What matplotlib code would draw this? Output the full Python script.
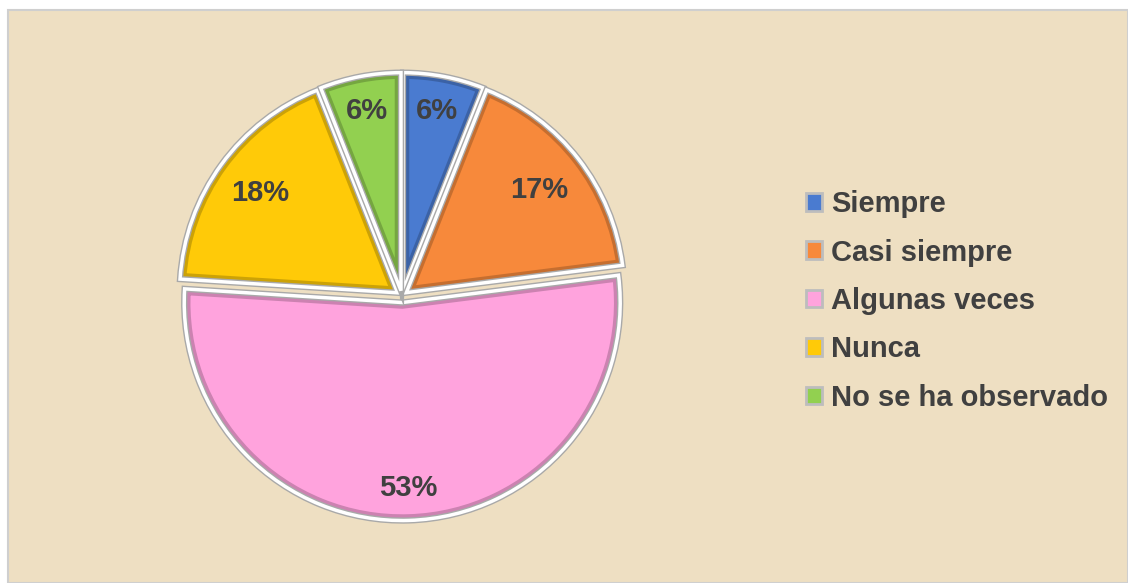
import matplotlib
matplotlib.use("Agg")
import numpy as np
import matplotlib.pyplot as plt
import matplotlib.patheffects as pe
from matplotlib.colors import to_rgb
from matplotlib.patches import Patch, Rectangle, Wedge

# data
categories = ["Siempre", "Casi siempre", "Algunas veces", "Nunca", "No se ha observado"]
percent = [6, 17, 53, 18, 6]
colors = ["#4A7BD0", "#F7893B", "#FFA3DD", "#FFCA08", "#92D050"]
explode = [0.025, 0.025, 0.03, 0.025, 0.025]
label_dist = [0.84, 0.77, 0.85, 0.78, 0.84]

plt.rcParams["font.family"] = ["Liberation Sans", "DejaVu Sans"]
text_color = "#404040"


def darker(c, f=0.8):
    return tuple(v * f for v in to_rgb(c))


W, H = 1128, 583
fig = plt.figure(figsize=(W / 100, H / 100), dpi=100)
fig.patch.set_facecolor("white")

# parchment-like background panel with thin grey border
bg = Rectangle((8 / W, 0), 1 - 8 / W, 1 - 10 / H, transform=fig.transFigure,
               facecolor="#EEDFC2", edgecolor="#CFCFCF", linewidth=1.5, zorder=-10)
fig.patches.append(bg)

# pie axes: centre (402, 296) px, radius 218 px
cx, cy, r = 402, 296, 218
lim = 1.15
side = 2 * lim * r
ax = fig.add_axes([(cx - side / 2) / W, 1 - (cy + side / 2) / H, side / W, side / H])

wedges, texts, autotexts = ax.pie(
    percent, colors=colors, explode=explode, startangle=90, counterclock=False,
    autopct=lambda p: f"{p:.0f}%", pctdistance=0.84, radius=1.0,
    wedgeprops=dict(linewidth=0),
    textprops=dict(color=text_color, fontsize=21, fontweight="bold"),
)
ax.set_xlim(-lim, lim)
ax.set_ylim(-lim, lim)
ax.set_aspect("equal")
ax.axis("off")

# move the percentage labels to a per-slice distance along the slice bisector
for w, t, d in zip(wedges, autotexts, label_dist):
    mid = np.deg2rad((w.theta1 + w.theta2) / 2)
    t.set_position((w.center[0] + d * np.cos(mid), w.center[1] + d * np.sin(mid)))

# bevel: darker rim inside each slice, then white outline with grey halo
for w, c in zip(wedges, colors):
    rim = Wedge(w.center, w.r, w.theta1, w.theta2, facecolor="none",
                edgecolor=darker(c), linewidth=9, zorder=1.5)
    ax.add_patch(rim)
    rim.set_clip_path(w)
    outline = Wedge(w.center, w.r, w.theta1, w.theta2, facecolor="none",
                    edgecolor="white", linewidth=2.5, zorder=2)
    outline.set_path_effects([pe.Stroke(linewidth=4.5, foreground="#A9A9A9"), pe.Normal()])
    ax.add_patch(outline)

handles = [Patch(facecolor=c, edgecolor="#BDBDBD", linewidth=2) for c in colors]
leg = fig.legend(handles, categories, loc="center left",
                 bbox_to_anchor=(806 / W, 1 - 301 / H), frameon=False,
                 handlelength=0.55, handleheight=0.55, handletextpad=0.3,
                 labelspacing=0.7, borderpad=0, borderaxespad=0,
                 prop=dict(size=21, weight="bold"))
for t in leg.get_texts():
    t.set_color(text_color)

fig.savefig("out.png", dpi=100)
